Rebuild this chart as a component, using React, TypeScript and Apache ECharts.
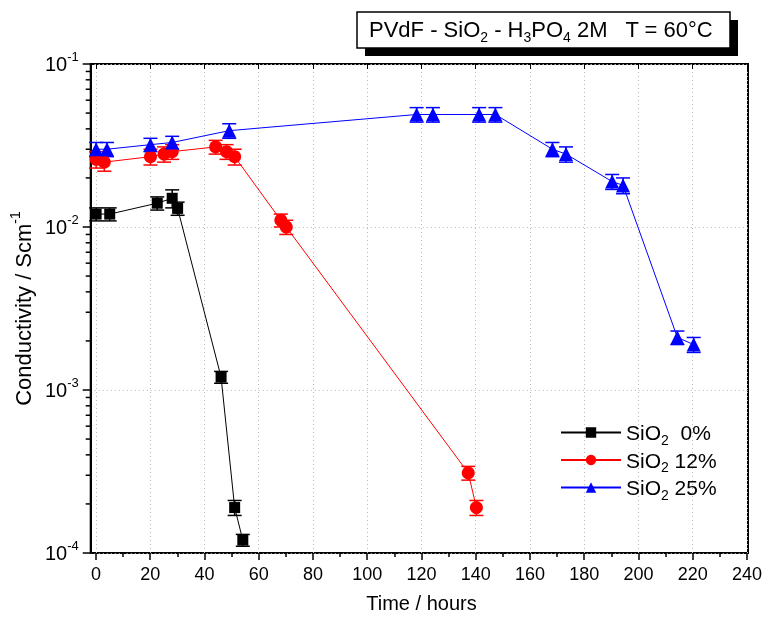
import React, { useEffect, useRef } from 'react';
import * as echarts from 'echarts';

const FONT = '"Liberation Sans", Arial, sans-serif';

const X_MIN = -2;
const X_MAX = 240;
const xTicks = [0, 20, 40, 60, 80, 100, 120, 140, 160, 180, 200, 220, 240];
const yMinorTicks = [
  0.0002, 0.0003, 0.0004, 0.0005, 0.0006, 0.0007, 0.0008, 0.0009,
  0.002, 0.003, 0.004, 0.005, 0.006, 0.007, 0.008, 0.009,
  0.02, 0.03, 0.04, 0.05, 0.06, 0.07, 0.08, 0.09,
];

const seriesNames = ['SiO2  0%', 'SiO2 12%', 'SiO2 25%'];
const legendPct = ['  0%', ' 12%', ' 25%'];
const colors = ['#000000', '#ff0000', '#0000ff'];
const symbols = ['rect', 'circle', 'triangle'];

const time0 = [0, 5, 22.5, 28, 30, 46, 51, 54];
const cond0 = [0.012, 0.012, 0.014, 0.015, 0.013, 0.0012, 0.00019, 0.00012];
const err0 = [0.0011, 0.0011, 0.0013, 0.0019, 0.0012, 0.0001, 0.00002, 0.00001];

const time12 = [0, 3, 20, 25, 28, 44, 48, 51, 68, 70, 137, 140];
const cond12 = [0.026, 0.025, 0.027, 0.028, 0.029, 0.031, 0.029, 0.027, 0.011, 0.010, 0.00031, 0.00019];
const err12 = [0.003, 0.003, 0.003, 0.003, 0.003, 0.003, 0.003, 0.003, 0.001, 0.001, 0.00003, 0.00002];

const time25 = [0, 4, 20, 28, 49, 118, 124, 141, 147, 168, 173, 190, 194, 214, 220];
const cond25 = [0.030, 0.030, 0.032, 0.033, 0.039, 0.049, 0.049, 0.049, 0.049, 0.030, 0.028, 0.019, 0.018, 0.0021, 0.0019];
const err25 = [0.003, 0.003, 0.003, 0.003, 0.004, 0.005, 0.005, 0.005, 0.005, 0.003, 0.003, 0.002, 0.002, 0.0002, 0.0002];

const allTimes = [time0, time12, time25];
const allConds = [cond0, cond12, cond25];
const allErrs = [err0, err12, err25];
const symbolSizes = [11, 13, 14];

function errRender(color: string) {
  return (params: any, api: any) => {
    const x = api.value(0);
    const lo = api.coord([x, api.value(1)]);
    const hi = api.coord([x, api.value(2)]);
    const w = 7;
    const st = { stroke: color, lineWidth: 1.5 };
    return {
      type: 'group',
      children: [
        { type: 'line', shape: { x1: lo[0], y1: lo[1], x2: hi[0], y2: hi[1] }, style: st },
        { type: 'line', shape: { x1: lo[0] - w, y1: lo[1], x2: lo[0] + w, y2: lo[1] }, style: st },
        { type: 'line', shape: { x1: hi[0] - w, y1: hi[1], x2: hi[0] + w, y2: hi[1] }, style: st },
      ],
    };
  };
}

export default function App() {
  const ref = useRef<HTMLDivElement>(null);
  useEffect(() => {
    const chart = echarts.init(ref.current!, null, { renderer: 'svg' });
    const gridPos = { top: 64, bottom: 65, right: 17 };
    const dotted = { show: true, lineStyle: { color: '#b8b8b8', type: [1, 3], width: 1 } };

    const series: any[] = [];
    for (let i = 0; i < 3; i++) {
      series.push({
        type: 'custom',
        xAxisIndex: 0,
        yAxisIndex: 0,
        renderItem: errRender(colors[i]),
        data: allTimes[i].map((t, j) => [t, allConds[i][j] - allErrs[i][j], allConds[i][j] + allErrs[i][j]]),
        encode: { x: 0, y: [1, 2] },
        z: 3,
        silent: true,
      });
    }
    for (let i = 0; i < 3; i++) {
      series.push({
        name: seriesNames[i],
        type: 'line',
        xAxisIndex: 0,
        yAxisIndex: 0,
        data: allTimes[i].map((t, j) => [t, allConds[i][j]]),
        symbol: symbols[i],
        symbolSize: symbolSizes[i],
        showAllSymbol: true,
        itemStyle: { color: colors[i] },
        lineStyle: { color: colors[i], width: 1 },
        z: 4,
      });
    }
    // minor log ticks on left axis
    series.push({
      type: 'custom',
      xAxisIndex: 0,
      yAxisIndex: 0,
      silent: true,
      clip: false,
      z: 6,
      data: yMinorTicks.map((v) => [X_MIN, v]),
      encode: { x: 0, y: 1 },
      renderItem: (params: any, api: any) => {
        const p = api.coord([api.value(0), api.value(1)]);
        return {
          type: 'line',
          shape: { x1: p[0] - 5, y1: p[1], x2: p[0], y2: p[1] },
          style: { stroke: '#000', lineWidth: 1.5 },
        };
      },
    });

    const option: any = {
      animation: false,
      textStyle: { fontFamily: FONT },
      grid: [
        { left: 90, ...gridPos, show: true, borderColor: '#000', borderWidth: 2, backgroundColor: 'transparent' },
        { left: 96, ...gridPos, show: false },
      ],
      xAxis: [
        { type: 'value', gridIndex: 0, min: X_MIN, max: X_MAX, show: false, axisLine: { onZero: false } },
        {
          type: 'value', gridIndex: 1, min: 0, max: 240, interval: 20, position: 'bottom',
          axisLine: { show: false, onZero: false },
          axisTick: { show: true, inside: false, length: 7, lineStyle: { color: '#000', width: 1.5 } },
          minorTick: { show: true, splitNumber: 2, length: 4, lineStyle: { color: '#000', width: 1.5 } },
          axisLabel: { show: true, color: '#000', fontSize: 18, fontFamily: FONT, margin: 12 },
          splitLine: dotted,
          name: 'Time / hours', nameLocation: 'middle', nameGap: 40,
          nameTextStyle: { fontSize: 20, color: '#000', fontFamily: FONT },
        },
        {
          type: 'value', gridIndex: 1, min: 0, max: 240, interval: 20, position: 'top',
          axisLine: { show: false, onZero: false },
          axisTick: { show: true, inside: true, length: 5, lineStyle: { color: '#000', width: 1 } },
          axisLabel: { show: false },
          splitLine: { show: false },
        },
      ],
      yAxis: [
        {
          type: 'log', gridIndex: 0, min: 0.0001, max: 0.1, logBase: 10, position: 'left',
          axisLine: { show: true, onZero: false, lineStyle: { color: '#000', width: 2 } },
          axisTick: { show: true, inside: false, length: 8, lineStyle: { color: '#000', width: 1.5 } },
          axisLabel: {
            color: '#000', margin: 12,
            formatter: (v: number) => `{b|10}{s|${Math.round(Math.log10(v))}}`,
            rich: {
              b: { fontSize: 20, lineHeight: 28, fontFamily: FONT, color: '#000' },
              s: { fontSize: 13, lineHeight: 13, verticalAlign: 'top', fontFamily: FONT, color: '#000' },
            },
          },
          splitLine: dotted,
          name: '{n|Conductivity / Scm}{s|-1}', nameLocation: 'middle', nameGap: 52,
          nameTextStyle: {
            rich: {
              n: { fontSize: 22, lineHeight: 30, fontFamily: FONT, color: '#000' },
              s: { fontSize: 14, lineHeight: 14, verticalAlign: 'top', fontFamily: FONT, color: '#000' },
            },
          },
        },
        { type: 'log', gridIndex: 1, min: 0.0001, max: 0.1, show: false, axisLine: { onZero: false } },
      ],
      legend: {
        data: seriesNames,
        orient: 'vertical',
        left: 555,
        top: 417,
        itemWidth: 60,
        itemHeight: 13,
        itemGap: 3,
        formatter: (name: string) => {
          const i = seriesNames.indexOf(name);
          return `{t|SiO}{u|2}{t|${legendPct[i]}}`;
        },
        textStyle: {
          rich: {
            t: { fontSize: 21, lineHeight: 28, fontFamily: FONT, color: '#000' },
            u: { fontSize: 14, lineHeight: 12, verticalAlign: 'bottom', fontFamily: FONT, color: '#000' },
          },
        },
      },
      graphic: [
        { type: 'rect', shape: { x: 365, y: 20, width: 373, height: 36 }, style: { fill: '#000' }, z: 10 },
        { type: 'rect', shape: { x: 357, y: 12, width: 373, height: 36 }, style: { fill: '#fff', stroke: '#000', lineWidth: 1.5 }, z: 11 },
        {
          type: 'text', x: 369, y: 29, z: 12,
          style: {
            text: '{t|PVdF - SiO}{u|2}{t| - H}{u|3}{t|PO}{u|4}{t| 2M   T = 60°C}',
            verticalAlign: 'middle',
            rich: {
              t: { fontSize: 22, lineHeight: 30, fontFamily: FONT, fill: '#000' },
              u: { fontSize: 14, lineHeight: 13, verticalAlign: 'bottom', fontFamily: FONT, fill: '#000' },
            },
          },
        },
      ],
      series,
    };
    chart.setOption(option);
    return () => chart.dispose();
  }, []);
  return <div ref={ref} style={{ position: 'fixed', left: 0, top: 0, width: 765, height: 618 }} />;
}
